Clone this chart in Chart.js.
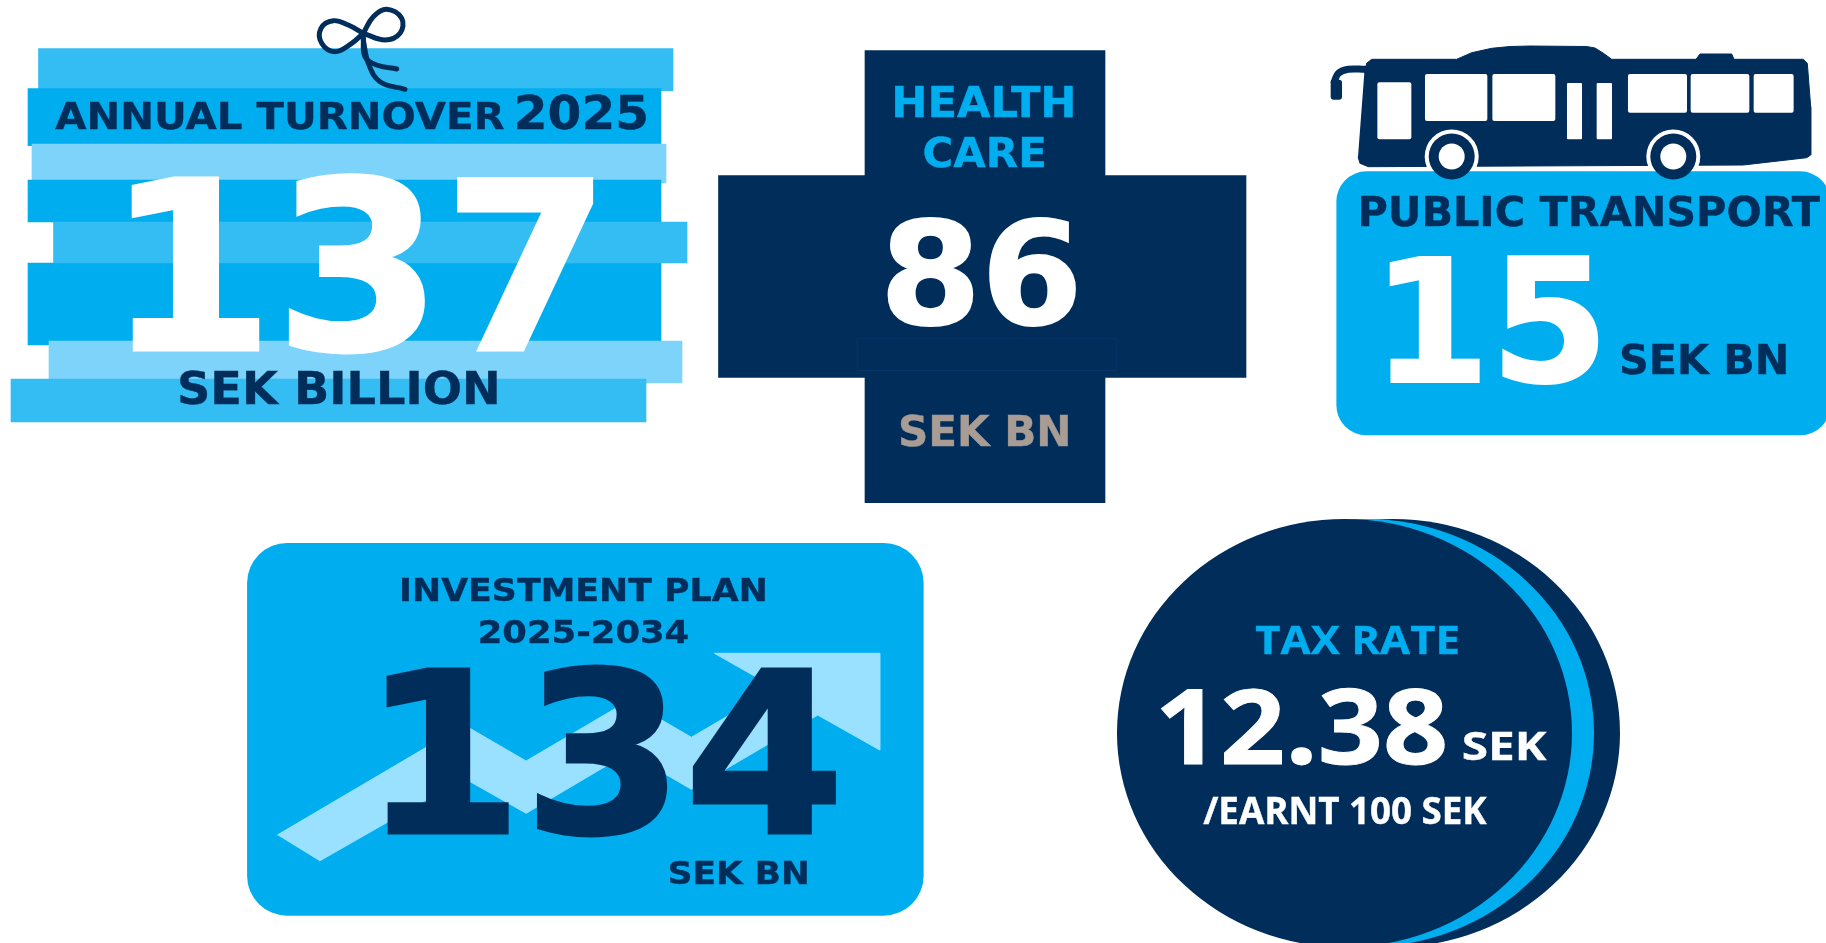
<!DOCTYPE html>
<html>
<head>
<meta charset="utf-8">
<title>Budget 2025</title>
<script src="https://cdn.jsdelivr.net/npm/chart.js@4"></script>
<style>
    html, body { margin: 0; padding: 0; background: #fff; overflow: hidden; }
    canvas { display: block; }
</style>
</head>
<body>
<canvas id="budget-chart" width="1826" height="943"></canvas>
<script>
// The figures shown in the picture
let categories = ['ANNUAL TURNOVER', 'HEALTH CARE', 'PUBLIC TRANSPORT', 'INVESTMENT PLAN', 'TAX RATE']
let values = [137, 86, 15, 134, 12.38]

let navy = '#012d5b'
let blue = '#00aeef'
let midBlue = '#33bdf3'
let paleBlue = '#7dd3f9'
let arrowBlue = '#99e1ff'
let white = '#ffffff'
let sans = '"DejaVu Sans"'
let open = '"Open Sans"'

// Layout of the pictures, in the 1826x943 units of the two hidden axes
// x0, x1, y0, y1, colour, corner radius
let giftStripes = [
    [38.5, 673, 48.7, 90.7, midBlue, 0],
    [28, 661, 88.7, 145.7, blue, 0],
    [32, 666, 144, 183, paleBlue, 0],
    [28, 661, 180, 222, blue, 0],
    [28, 661, 263, 345, blue, 0],
    [53.5, 687, 222, 263, midBlue, 0],
    [49, 682, 341, 383, paleBlue, 0],
    [11, 646, 379, 422, midBlue, 0]
]
let crossBars = [
    [865, 1105, 50.7, 502.7, navy, 0],
    [718.5, 1246, 175.7, 377.3, navy, 0]
]
let busWindows = [
    [1377.7, 1411, 82.7, 139, white, 2],
    [1425.3, 1487, 74.3, 120.7, white, 2],
    [1492.7, 1555, 74.3, 120.7, white, 2],
    [1567.3, 1581.7, 83.3, 139, white, 1],
    [1597, 1611.7, 83.3, 139, white, 1],
    [1628.3, 1686.7, 74.3, 112.3, white, 2],
    [1691, 1749, 74.3, 112.3, white, 2],
    [1754, 1793.3, 74.3, 112.3, white, 2]
]
let busOutline = [
    [1364.3, 73.3], [1366.7, 63.3], [1371.7, 59.3], [1456.7, 59.3], [1471.7, 52.7], [1491.7, 48.3],
    [1510, 46.5], [1530, 46], [1586.7, 46.5], [1595, 48], [1603, 53], [1611.7, 59.3],
    [1696, 59.3], [1700, 54], [1731.7, 54], [1734, 59.3], [1803.3, 59.3], [1807.3, 63.3],
    [1810.7, 106.7], [1810.7, 155], [1806.7, 157.7], [1743.3, 165], [1368.3, 166.7], [1360, 163.3],
    [1358, 156.7]
]
let busMirror = [[1365, 69.3], [1348.3, 69.3], [1338.3, 73.3], [1334.3, 81.7]]
let busWheels = [[1451.7, 156.5], [1673.3, 156.5]]
let arrowOutline = [
    [277.3, 835], [464.2, 725], [526.1, 761], [628.5, 700.7], [691.4, 737.3], [775.5, 688],
    [714.4, 653.3], [879.7, 653.3], [879.7, 750], [817.7, 715], [691.4, 789.3], [628.5, 752.7],
    [526.1, 813.3], [464.2, 778.3], [319.5, 861]
]
let bowLoops = [
    [[363.3, 33.3], [348.3, 25], [333.3, 20.7], [321, 28.3], [321.7, 43.3], [335, 51.7], [351.7, 43.3], [363.3, 33.3]],
    [[363.3, 33.3], [373.3, 16.7], [386.7, 9.3], [401.7, 18.3], [400, 33.3], [385, 40], [363.3, 33.3]],
    [[363.3, 35], [365, 56.7], [376.7, 65], [396.7, 69]],
    [[363.3, 40], [368.3, 63.3], [380, 81.7], [405, 89.3]]
]
// cx, cy, rx, ry, colour
let taxDiscs = [
    [1393, 733, 227, 214, navy],
    [1366, 733, 228, 214, blue],
    [1344.5, 733, 227.5, 214, navy]
]

// text, x0, x1, y0, y1 of the ink, font, colour, extra weight
let textBoxes = [
    ['ANNUAL TURNOVER', 55, 504, 100, 129.3, sans, navy, 0.4],
    ['2025', 517, 646, 94, 129.5, sans, navy, 0.4],
    [String(values[0]), 131, 594, 171.7, 354, sans, white, 3],
    ['SEK BILLION', 180, 497, 370.7, 405, sans, navy, 0.4],
    ['HEALTH', 895, 1073, 85.7, 118, sans, blue, 0.4],
    ['CARE', 924, 1044, 136, 168, sans, blue, 0.4],
    [String(values[1]), 887.5, 1077, 216.7, 326.7, sans, white, 2],
    ['SEK BN', 900.7, 1068, 414.3, 446.7, sans, '#a89c94', 0.4],
    [categories[2], 1361, 1820, 195.7, 226.7, sans, navy, 0.4],
    [String(values[2]), 1389.3, 1599, 256, 385, sans, white, 2],
    ['SEK BN', 1621.7, 1786, 344, 375, sans, navy, 0.4],
    [categories[3], 402, 765, 577.7, 601.7, sans, navy, 0.4],
    ['2025-2034', 480, 687.8, 618.3, 643.3, sans, navy, 0.4],
    [String(values[3]), 386, 836, 663.3, 836.7, sans, navy, 3],
    ['SEK BN', 670, 807, 860.7, 885, sans, navy, 0.4],
    [categories[4], 1256, 1458, 625, 654, open, blue, 0.4],
    [String(values[4]), 1160, 1445, 688, 766, open, white, 1],
    ['SEK', 1463.4, 1547, 731.7, 760.7, open, white, 0.4],
    ['/EARNT 100 SEK', 1203, 1487, 797, 825, open, white, 0.4]
]

function bar(box, extra) {
    return Object.assign({
        type: 'bar',
        indexAxis: 'y',
        grouped: false,
        data: [{x: [box[0], box[1]], y: (box[2] + box[3]) / 2}],
        barThickness: box[3] - box[2],
        backgroundColor: box[4],
        borderRadius: box[5],
        borderSkipped: false
    }, extra)
}

function shape(points, colour) {
    return {
        type: 'scatter',
        showLine: true,
        data: points.map(function(p) { return {x: p[0], y: p[1]} }),
        fill: 'shape',
        backgroundColor: colour,
        borderColor: colour,
        borderWidth: 1,
        pointRadius: 0
    }
}

function string(points, width) {
    return {
        type: 'scatter',
        showLine: true,
        data: points.map(function(p) { return {x: p[0], y: p[1]} }),
        borderColor: navy,
        borderWidth: width,
        borderCapStyle: 'round',
        tension: 0.4,
        pointRadius: 0
    }
}

function wheel(points, radius, colour) {
    return {
        type: 'scatter',
        data: points.map(function(p) { return {x: p[0], y: p[1]} }),
        pointRadius: radius,
        pointBackgroundColor: colour,
        pointBorderWidth: 0
    }
}

// Listed in the order they are painted, first one at the back
let datasets = []
giftStripes.forEach(function(box) { datasets.push(bar(box)) })
bowLoops.forEach(function(points) { datasets.push(string(points, 5)) })
crossBars.forEach(function(box) { datasets.push(bar(box)) })
datasets.push(bar([857, 1117, 338, 370.7, navy, 0], {borderWidth: 1, borderColor: '#04366a'}))
datasets.push(shape(busOutline, navy))
datasets.push(string(busMirror, 7))
datasets.push(bar([1331, 1341.7, 80, 99.3, navy, 3]))
busWindows.forEach(function(box) { datasets.push(bar(box)) })
datasets.push(wheel(busWheels, 27, white))
datasets.push(bar([1336.7, 1830, 171.7, 435, blue, 30]))
datasets.push(wheel(busWheels, 23, navy))
datasets.push(wheel(busWheels, 13, white))
datasets.push(bar([247.4, 923.3, 543.3, 915.3, blue, 40]))
datasets.push(shape(arrowOutline, arrowBlue))
datasets.forEach(function(set, i) { set.order = datasets.length - i })

// The tax disc is slightly oval, which a point can't do
let discPlugin = {
    id: 'discs',
    beforeDatasetsDraw: function(chart) {
        let ctx = chart.ctx
        let x = chart.scales.x
        let y = chart.scales.y
        taxDiscs.forEach(function(d) {
            ctx.beginPath()
            ctx.ellipse(x.getPixelForValue(d[0]), y.getPixelForValue(d[1]), d[2], d[3], 0, 0, Math.PI * 2)
            ctx.fillStyle = d[4]
            ctx.fill()
        })
    }
}

// Every label is squeezed to fit its box, the original type is condensed and a bit heavier
let textPlugin = {
    id: 'texts',
    afterDatasetsDraw: function(chart) {
        let ctx = chart.ctx
        let xs = chart.scales.x
        let ys = chart.scales.y
        textBoxes.forEach(function(t) {
            let weight = t[7]
            let left = xs.getPixelForValue(t[1]) + weight / 2
            let right = xs.getPixelForValue(t[2]) - weight / 2
            let top = ys.getPixelForValue(t[3]) + weight / 2
            let bottom = ys.getPixelForValue(t[4]) - weight / 2
            ctx.save()
            ctx.font = 'bold 100px ' + t[5]
            ctx.textBaseline = 'alphabetic'
            ctx.textAlign = 'left'
            let m = ctx.measureText(t[0])
            let inkW = m.actualBoundingBoxRight + m.actualBoundingBoxLeft
            let inkH = m.actualBoundingBoxAscent + m.actualBoundingBoxDescent
            let sx = (right - left) / inkW
            let sy = (bottom - top) / inkH
            ctx.translate(left + m.actualBoundingBoxLeft * sx, bottom - m.actualBoundingBoxDescent * sy)
            ctx.scale(sx, sy)
            ctx.fillStyle = t[6]
            ctx.strokeStyle = t[6]
            ctx.lineJoin = 'miter'
            ctx.miterLimit = 3
            ctx.lineWidth = weight / ((sx + sy) / 2)
            ctx.fillText(t[0], 0, 0)
            ctx.strokeText(t[0], 0, 0)
            ctx.restore()
        })
    }
}

let budgetChart = new Chart(document.querySelector('#budget-chart'), {
    type: 'bar',
    data: {datasets: datasets},
    plugins: [discPlugin, textPlugin],
    options: {
        responsive: false,
        animation: false,
        events: [],
        layout: {padding: 0, autoPadding: false},
        plugins: {legend: {display: false}, tooltip: {enabled: false}, title: {display: false}},
        scales: {
            x: {type: 'linear', min: 0, max: 1826, display: false, offset: false},
            y: {type: 'linear', min: 0, max: 943, reverse: true, display: false, offset: false}
        }
    }
})
</script>
</body>
</html>
